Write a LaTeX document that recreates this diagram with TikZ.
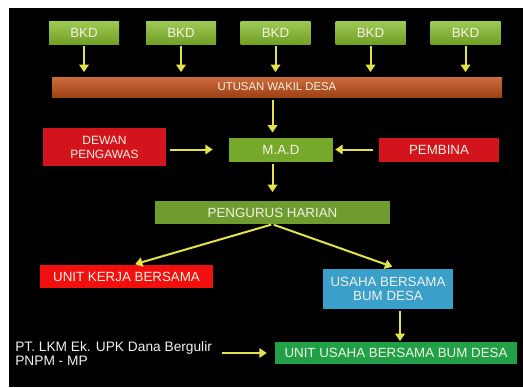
\documentclass[tikz,border=0pt]{standalone}
\usepackage{fontspec}
\setmainfont{Liberation Sans}
\usepackage{tikz}
\usetikzlibrary{arrows.meta}
\definecolor{bkdgreen}{HTML}{86BC2C}
\definecolor{bargold}{HTML}{C4521C}
\definecolor{madgreen}{HTML}{76A82A}
\definecolor{olivegreen}{HTML}{6E9C2E}
\definecolor{darkred}{HTML}{D3141C}
\definecolor{brightred}{HTML}{F2100E}
\definecolor{skyblue}{HTML}{3A9FCB}
\definecolor{bumgreen}{HTML}{21A048}
\definecolor{arrowyellow}{HTML}{E2E24A}
\definecolor{boxtext}{HTML}{F2F2E4}
\tikzset{box/.style={inner sep=0pt, text=boxtext, align=center, font=\fontsize{10}{11}\selectfont},
    arr/.style={draw=arrowyellow, line width=1.5pt, -{Triangle[length=5.5pt,width=7pt]}}}

\begin{document}
\begin{tikzpicture}[x=0.75pt,y=0.75pt,yscale=-1,xscale=1]
\useasboundingbox (0,0) rectangle (523,387);
%Shape: Background
\fill[white] (0,0) rectangle (523,387);
\fill[black] (9,8) rectangle (523,387);

%Shape: Rectangle BKD row
\foreach \i/\x in {1/84,2/181,3/275.5,4/370.5,5/465.5}
  \node[box, top color=bkdgreen!80!white, bottom color=bkdgreen!85!black, minimum width=52.5pt, minimum height=17.25pt] (bkd\i) at (\x,32.5) {BKD};
%Shape: Rectangle
\node[box, top color=bargold!85!white, bottom color=bargold!80!black, minimum width=337.5pt, minimum height=15pt, font=\fontsize{8.5}{9}\selectfont] (utusan) at (277,87) {UTUSAN WAKIL DESA};
%Shape: Rectangle
\node[box, fill=madgreen, minimum width=78pt, minimum height=18pt] (mad) at (281,149.5) {M.A.D};
%Shape: Rectangle
\node[box, fill=darkred, minimum width=92.25pt, minimum height=28.5pt, font=\fontsize{9}{10.5}\selectfont] (dewan) at (104.5,147) {DEWAN\\PENGAWAS};
%Shape: Rectangle
\node[box, fill=darkred, minimum width=90pt, minimum height=18pt] (pembina) at (439,150) {PEMBINA};
%Shape: Rectangle
\node[box, fill=olivegreen, minimum width=176.25pt, minimum height=17.25pt] (pengurus) at (272.5,212.5) {PENGURUS HARIAN};
%Shape: Rectangle
\node[box, fill=brightred, minimum width=129.75pt, minimum height=17.25pt] (ukb) at (126.5,276.5) {UNIT KERJA BERSAMA};
%Shape: Rectangle
\node[box, fill=skyblue, minimum width=97.5pt, minimum height=30pt] (ubb) at (388,289) {USAHA BERSAMA\\BUM DESA};
%Shape: Rectangle
\node[box, fill=bumgreen, minimum width=181.5pt, minimum height=16.5pt] (uubb) at (396,353) {UNIT USAHA BERSAMA BUM DESA};
% Text Node
\node[box, anchor=west, align=left, text=white!90!gray, font=\fontsize{10.3}{10}\selectfont] (lkm) at (15,353.5) {PT. LKM Ek. UPK Dana Bergulir\\PNPM - MP};

%Straight Lines
\foreach \i in {1,...,5}
  \draw[arr, shorten <=1pt, shorten >=3.5pt] (bkd\i.south) -- (bkd\i.south |- utusan.north);
\draw[arr, shorten <=2pt, shorten >=3.5pt] (utusan.south -| pengurus.north) -- (mad.north -| pengurus.north);
\draw[arr, shorten <=3pt, shorten >=12pt] (dewan.east |- mad.west) -- (mad.west);
\draw[arr, shorten <=4.5pt, shorten >=1.5pt] (pembina.west |- mad.east) -- (mad.east);
\draw[arr, shorten <=2pt, shorten >=6.5pt] (mad.south -| pengurus.north) -- (pengurus.north);
\draw[arr, shorten <=1pt, shorten >=1.5pt] (pengurus.south) -- ([xshift=5pt]ukb.north);
\draw[arr, shorten <=1pt, shorten >=4.5pt] (pengurus.south) -- ([xshift=7.5pt]ubb.north);
\draw[arr, shorten <=1pt, shorten >=0.5pt] ([xshift=9pt]ubb.south) -- ([xshift=9pt]ubb.south |- uubb.north);
\draw[arr, shorten <=7pt, shorten >=6pt] (lkm.east |- uubb.west) -- (uubb.west);

\end{tikzpicture}
\end{document}
